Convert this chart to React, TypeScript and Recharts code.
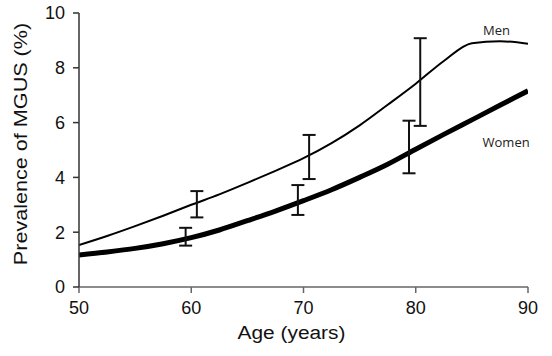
import React from "react";
import {
  ComposedChart,
  Line,
  Scatter,
  ErrorBar,
  XAxis,
  YAxis,
  ReferenceDot,
} from "recharts";

// ---- data ----
const ages = [50, 52.5, 55, 57.5, 60, 62.5, 65, 67.5, 70, 72.5, 75, 77.5, 80, 82.5, 85, 87.5, 90];
const menValues = [1.53, 1.86, 2.22, 2.6, 3.0, 3.38, 3.8, 4.24, 4.7, 5.25, 5.9, 6.65, 7.42, 8.25, 8.9, 8.97, 8.88];
const womenValues = [1.17, 1.28, 1.41, 1.58, 1.8, 2.08, 2.42, 2.77, 3.15, 3.55, 4.0, 4.48, 5.03, 5.57, 6.1, 6.63, 7.16];

const menBarAges = [60.5, 70.5, 80.4];
const menBarMid = [3.0, 4.73, 7.55];
const menBarLow = [2.54, 3.94, 5.88];
const menBarHigh = [3.5, 5.55, 9.08];

const womenBarAges = [59.5, 69.5, 79.4];
const womenBarMid = [1.8, 3.05, 4.9];
const womenBarLow = [1.51, 2.63, 4.15];
const womenBarHigh = [2.16, 3.72, 6.07];

const xTicks = [50, 60, 70, 80, 90];
const yTicks = [0, 2, 4, 6, 8, 10];

const seriesLabels = ["Men", "Women"];
const labelPos = [
  { x: 86.0, y: 9.2 },
  { x: 85.95, y: 5.12 },
];

const xTitle = "Age (years)";
const yTitle = "Prevalence of MGUS (%)";

// ---- derived tables ----
const menData = ages.map((a, i) => ({ x: a, v: menValues[i] }));
const womenData = ages.map((a, i) => ({ x: a, v: womenValues[i] }));
const errData = [
  ...menBarAges.map((a, i) => ({
    x: a,
    y: menBarMid[i],
    err: [menBarMid[i] - menBarLow[i], menBarHigh[i] - menBarMid[i]],
  })),
  ...womenBarAges.map((a, i) => ({
    x: a,
    y: womenBarMid[i],
    err: [womenBarMid[i] - womenBarLow[i], womenBarHigh[i] - womenBarMid[i]],
  })),
];

const FONT = "'Liberation Sans', Arial, Helvetica, sans-serif";

const XTitle = (props: any) => {
  const vb = props.viewBox || { x: 0, y: 0, width: 0, height: 0 };
  const cx = vb.x + vb.width / 2 - 12;
  const by = vb.y + 52;
  return (
    <text
      transform={`translate(${cx},${by}) scale(1.16,1)`}
      textAnchor="middle"
      fontFamily={FONT}
      fontSize={18}
      fill="#111"
    >
      {xTitle}
    </text>
  );
};

const YTitle = (props: any) => {
  const vb = props.viewBox || { x: 0, y: 0, width: 0, height: 0 };
  const bx = vb.x + 27;
  const cy = vb.y + vb.height / 2 - 6;
  return (
    <text
      transform={`translate(${bx},${cy}) rotate(-90) scale(1.2,1)`}
      textAnchor="middle"
      fontFamily={FONT}
      fontSize={18}
      fill="#111"
    >
      {yTitle}
    </text>
  );
};

const makeSeriesLabel = (text: string) => (props: any) => {
  const vb = props.viewBox || { x: 0, y: 0 };
  return (
    <text
      x={vb.x}
      y={vb.y}
      textAnchor="start"
      fontFamily="'Open Sans', 'Noto Sans', sans-serif"
      fontSize={13}
      fill="#222"
    >
      {text}
    </text>
  );
};

const NoShape = () => <g />;

export default function App() {
  return (
    <div style={{ position: "absolute", left: 0, top: 0, background: "#fff" }}>
      <ComposedChart
        width={552}
        height={356}
        margin={{ top: 13, right: 24, bottom: 0, left: 0 }}
      >
        <XAxis
          dataKey="x"
          type="number"
          domain={[50, 90]}
          ticks={xTicks}
          allowDataOverflow
          height={69}
          tickSize={6}
          tickMargin={8}
          stroke="#666"
          strokeWidth={1.5}
          tick={{ fill: "#111", fontSize: 18, fontFamily: FONT }}
          label={{ content: XTitle }}
        />
        <YAxis
          type="number"
          domain={[0, 10]}
          ticks={yTicks}
          width={79}
          tickSize={6}
          tickMargin={8}
          stroke="#333"
          strokeWidth={1.5}
          tick={{ fill: "#111", fontSize: 18, fontFamily: FONT }}
          label={{ content: YTitle }}
        />
        <Line
          data={menData}
          dataKey="v"
          type="monotone"
          stroke="#000"
          strokeWidth={2}
          dot={false}
          activeDot={false}
          isAnimationActive={false}
        />
        <Line
          data={womenData}
          dataKey="v"
          type="monotone"
          stroke="#000"
          strokeWidth={5}
          dot={false}
          activeDot={false}
          isAnimationActive={false}
        />
        <Scatter
          data={errData}
          dataKey="y"
          shape={NoShape}
          isAnimationActive={false}
        >
          <ErrorBar
            dataKey="err"
            direction="y"
            width={6.5}
            stroke="#111"
            strokeWidth={2}
            isAnimationActive={false}
          />
        </Scatter>
        {seriesLabels.map((s, i) => (
          <ReferenceDot
            key={s}
            x={labelPos[i].x}
            y={labelPos[i].y}
            r={0}
            fill="none"
            stroke="none"
            label={{ content: makeSeriesLabel(s) }}
          />
        ))}
      </ComposedChart>
    </div>
  );
}
